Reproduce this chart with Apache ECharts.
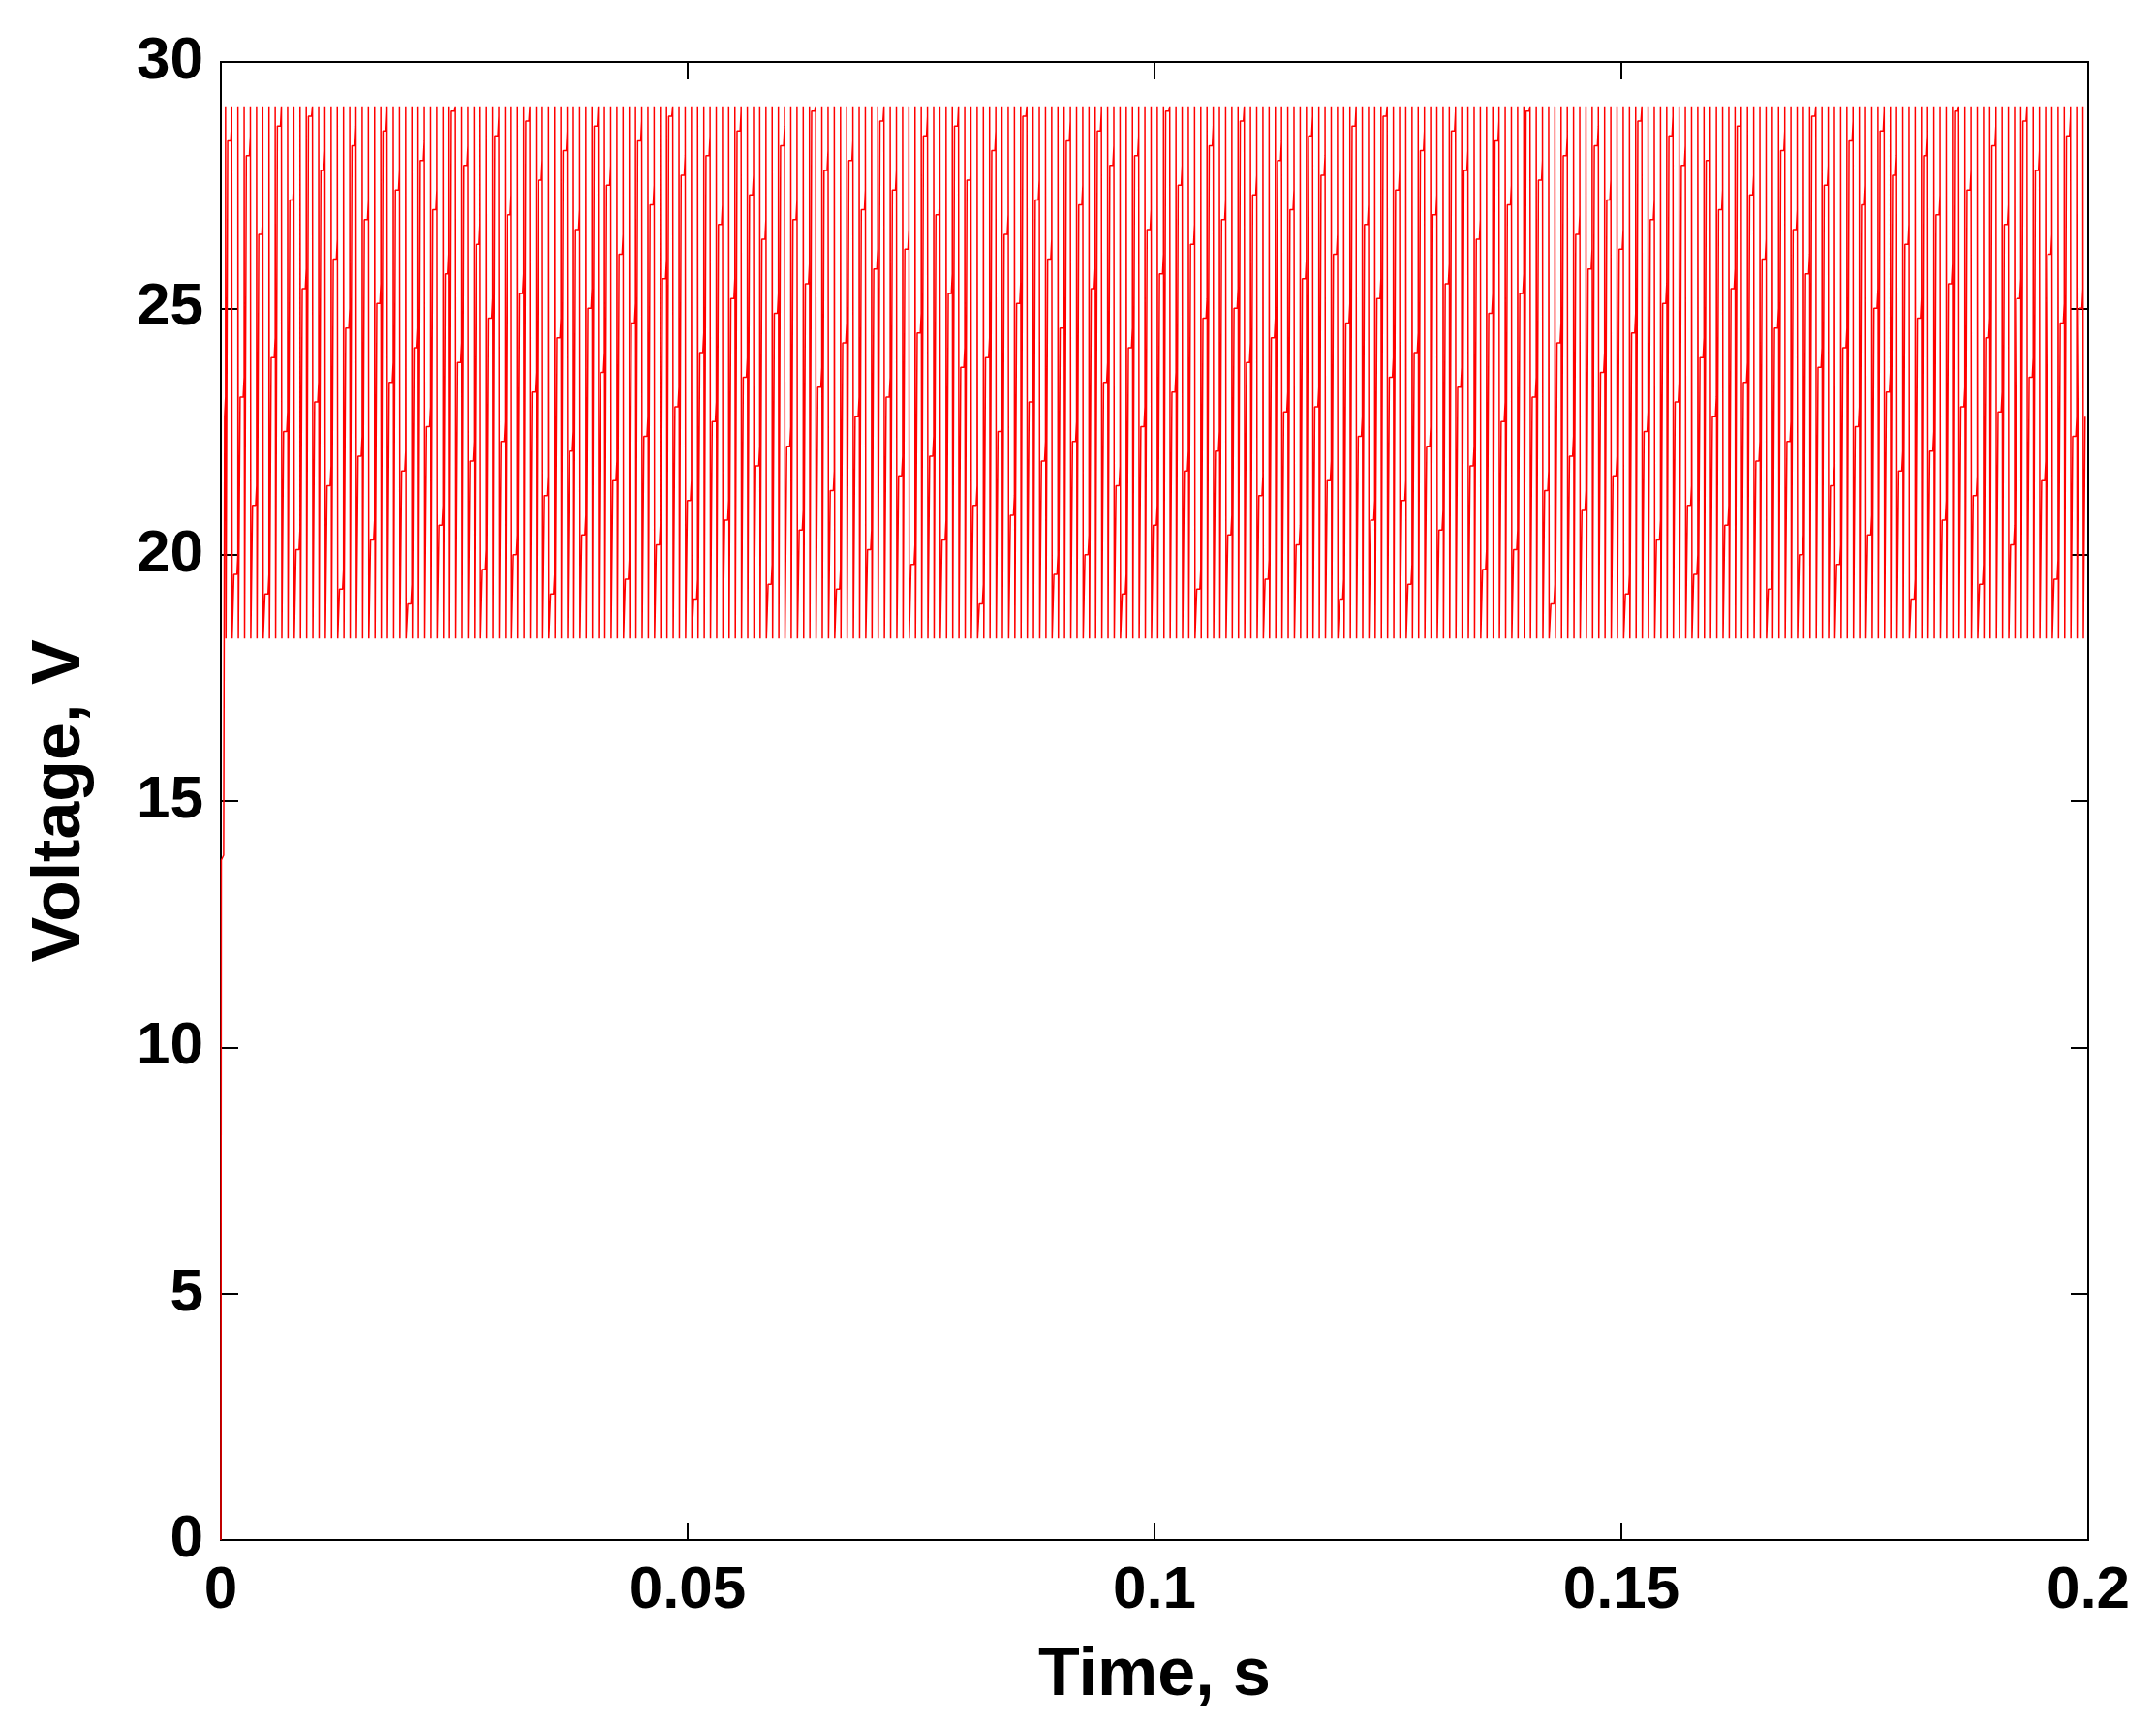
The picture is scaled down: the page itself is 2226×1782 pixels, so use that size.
<!DOCTYPE html>
<html><head><meta charset="utf-8">
<script src="https://cdn.jsdelivr.net/npm/echarts@6/dist/echarts.min.js"></script>
<style>html,body{margin:0;padding:0;background:#fff}#c{width:2226px;height:1782px}</style>
</head><body><div id="c"></div>
<script>
const xTicks = [0, 0.05, 0.1, 0.15, 0.2];
const yTicks = [0, 5, 10, 15, 20, 25, 30];
const vHigh = 29.1;
const vLow = 18.3;
const startup = [[0, 0], [0.00005, 13.8], [0.0003, 13.9], [0.00035, 18.2]];
const plateaus = [
22.8,28.4,19.6,23.2,28.1,21.0,26.5,19.2,24.0,28.7,22.5,27.2,20.1,25.4,28.9,23.1,27.8,21.4,26.0,19.3,
24.6,28.3,22.0,26.8,20.3,25.1,28.6,23.5,27.4,21.7,19.0,24.2,28.0,22.6,27.0,20.6,25.7,29.0,23.9,27.9,
21.9,26.3,19.7,24.8,28.5,22.3,26.9,20.0,25.3,28.8,23.3,27.6,21.2,19.2,24.4,28.2,22.1,26.6,20.4,25.0,
28.7,23.7,27.5,21.5,26.1,19.5,24.7,28.4,22.4,27.1,20.2,25.6,28.9,23.0,27.7,21.1,19.1,24.1,28.1,22.7,
26.7,20.7,25.2,28.6,23.6,27.3,21.8,26.4,19.4,24.9,28.3,22.2,26.8,20.5,25.5,29.0,23.4,27.8,21.3,19.3,
24.3,28.0,22.8,27.0,20.1,25.8,28.8,23.2,27.4,21.6,26.2,19.8,24.5,28.5,22.0,26.9,20.3,25.3,28.7,23.8,
27.6,21.0,19.0,24.0,28.2,22.5,26.5,20.8,25.1,28.9,23.1,27.2,21.9,26.0,19.6,24.6,28.4,22.3,27.1,20.0,
25.4,28.6,23.5,27.9,21.4,19.2,24.2,28.1,22.6,26.6,20.6,25.7,29.0,23.3,27.5,21.7,26.3,19.3,24.8,28.3,
22.1,26.8,20.4,25.0,28.8,23.9,27.3,21.2,19.5,24.4,28.0,22.9,27.0,20.2,25.6,28.5,23.0,27.7,21.5,26.1,
19.1,24.7,28.7,22.4,26.7,20.7,25.2,28.9,23.6,27.4,21.1,19.4,24.1,28.2,22.2,26.9,20.5,25.5,28.6,23.4,
27.8,21.8,26.4,19.7,24.9,28.4,22.7,27.1,20.1,25.3,29.0,23.2,27.6,21.3,19.0,24.3,28.1,22.0,26.5,20.9,
25.8,28.3,23.7,27.2,21.6,26.2,19.2,24.5,28.8,22.5,26.8,20.3,25.1,28.5,23.1,27.9,21.0,19.6,24.0,28.0,
22.8,27.0,20.6,25.4,28.7,23.5,27.3,21.9,26.0,19.3,24.6,28.2,22.3,26.6,20.0,25.7,28.9,23.8,27.5,21.4,
19.8,24.2,28.4,22.6,27.1,20.4,25.0,28.6,23.3,27.7,21.7,26.3,19.1,24.8,28.1,22.1,26.9,20.7,25.5,29.0,
23.0,27.4,21.2,19.4,24.4,28.3,22.9,26.7,20.2,25.2,28.8,23.6,27.8,21.5,26.1,19.5,24.7,28.5,22.4,25.0
];
const T = (0.2 - 0.0004) / plateaus.length;
const data = startup.slice();
for (let k = 0; k < plateaus.length; k++) {
  const t = 0.0004 + k * T;
  const p = plateaus[k];
  data.push([t, p], [t + 0.15 * T, Math.min(p + 0.4, vHigh)], [t + 0.15 * T, vHigh], [t + 0.22 * T, vHigh],
            [t + 0.22 * T, vLow], [t + 0.5 * T, vLow], [t + 0.5 * T, plateaus[(k + 1) % plateaus.length]]);
}
const font = '"Liberation Sans", Arial, sans-serif';
const lbl = {color:'#000', fontFamily:font, fontWeight:'bold', fontSize:62};
const ttl = {color:'#000', fontFamily:font, fontWeight:'bold', fontSize:70};
const tick = {show:true, inside:true, length:18, lineStyle:{color:'#000', width:2}};
const line = {show:true, onZero:false, lineStyle:{color:'#000', width:2}};
const chart = echarts.init(document.getElementById('c'));
chart.setOption({
  animation:false, backgroundColor:'#fff',
  grid:{left:228, right:70, top:64, bottom:192, show:true, borderColor:'#000', borderWidth:2},
  xAxis:[
    {type:'value', min:0, max:0.2, interval:0.05, position:'bottom', axisLine:line, axisTick:tick, splitLine:{show:false},
     axisLabel:Object.assign({margin:22, formatter:v=>String(xTicks.find(x=>Math.abs(x-v)<1e-9) ?? v)}, lbl),
     name:'Time, s', nameLocation:'middle', nameGap:106, nameTextStyle:ttl},
    {type:'value', min:0, max:0.2, interval:0.05, position:'top', axisLine:line, axisTick:tick, axisLabel:{show:false}, splitLine:{show:false}}
  ],
  yAxis:[
    {type:'value', min:0, max:30, interval:5, position:'left', axisLine:line, axisTick:tick, splitLine:{show:false},
     axisLabel:Object.assign({margin:18}, lbl),
     name:'Voltage, V', nameLocation:'middle', nameGap:130, nameTextStyle:ttl},
    {type:'value', min:0, max:30, interval:5, position:'right', axisLine:line, axisTick:tick, axisLabel:{show:false}, splitLine:{show:false}}
  ],
  series:[{type:'line', data:data, showSymbol:false, sampling:'none', lineStyle:{color:'#ff0000', width:1.5}, z:1}]
});
</script></body></html>
